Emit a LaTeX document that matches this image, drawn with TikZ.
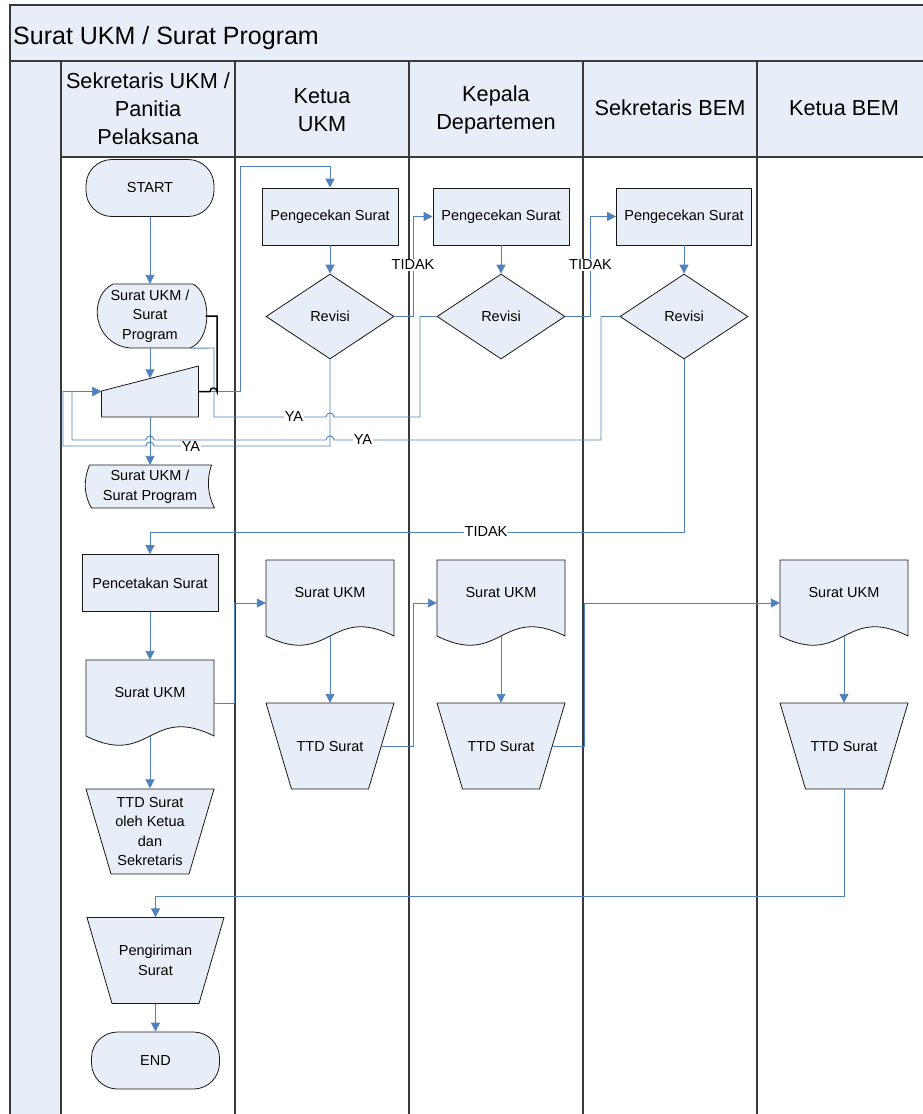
\documentclass[tikz,border=0pt]{standalone}
\usepackage{fontspec}
\setmainfont{Liberation Sans}
\usetikzlibrary{arrows.meta,shapes.geometric,calc}
\definecolor{boxfill}{HTML}{E8EEF7}
\definecolor{flow}{HTML}{4F81BD}
\definecolor{frame}{HTML}{3A3A3A}
\pgfdeclarelayer{lanes}
\pgfdeclarelayer{shapes}
\pgfsetlayers{lanes,shapes,main}

% outlines of the flowchart symbols that TikZ has no shape for
\newcommand\docoutline[1]{\draw[outline,shift={(#1.center)}] (-64,-43) -- (64,-43) -- (64,33) .. controls (0,1) and (0,65) .. (-64,33) -- cycle;}
\newcommand\trapoutline[4]{\draw[outline,shift={(#1.center)}] (-#2,-#3) -- (#2,-#3) -- ({#2-#4},#3) -- ({-#2+#4},#3) -- cycle;}

\begin{document}
\begin{tikzpicture}[x=1pt,y=-1pt,
  every node/.style={font=\fontsize{14.5}{19.5}\selectfont, align=center, inner sep=0pt},
  outline/.style={draw=black!90, line width=0.8pt, fill=boxfill},
  procbox/.style={outline, rectangle, minimum width=136pt, minimum height=57pt},
  terminal/.style={outline, rectangle, rounded corners=26pt, minimum width=128pt, minimum height=57pt},
  decision/.style={outline, diamond, minimum width=128pt, minimum height=85pt},
  holder/.style={rectangle, draw=none},
  docnode/.style={holder, minimum width=128pt, minimum height=86pt, text height=10.5pt, text depth=22pt},
  opnode/.style={holder, minimum width=128pt, minimum height=86pt},
  flowline/.style={draw=flow, line width=0.9pt},
  arr/.style={flowline, -{Triangle[length=9pt,width=9pt]}},
  tag/.style={fill=white, inner sep=1pt},
  lane/.style={draw=frame, line width=1.6pt},
  headtxt/.style={font=\fontsize{21.7}{28}\selectfont},
]
\useasboundingbox (0,0) rectangle (923,1114);

% ---------- pool, lanes and headers ----------
\begin{pgfonlayer}{lanes}
  \fill[boxfill] (10,5) rectangle (923,61);
  \fill[boxfill] (10,61) rectangle (61,1114);
  \fill[boxfill] (61,61) rectangle (923,157);
  \draw[lane] (923,5) -- (10,5) -- (10,1114);
  \draw[lane] (10,61) -- (923,61);
  \draw[lane] (61,157) -- (923,157);
  \foreach \x in {61,235,409,583,757} \draw[lane] (\x,61) -- (\x,1114);
\end{pgfonlayer}

\node[anchor=base west, font=\fontsize{25}{30}\selectfont] (title) at (13,44.5) {Surat UKM / Surat Program};
\node[headtxt] (hd1) at (148,109) {Sekretaris UKM /\\Panitia\\Pelaksana};
\node[headtxt] (hd2) at (322,110) {Ketua\\UKM};
\node[headtxt] (hd3) at (496,110) {Kepala\\Departemen};
\node[headtxt] (hd4) at (670,108) {Sekretaris BEM};
\node[headtxt] (hd5) at (844,108) {Ketua BEM};

% ---------- symbols ----------
\node[terminal] (start) at (150,188) {START};
\node[holder, minimum width=111pt, minimum height=64pt] (sp1) at (150,316) {Surat UKM /\\Surat\\Program};
\node[holder, minimum width=97pt, minimum height=51pt] (mi) at (150,391.5) {};
\node[holder, minimum width=129pt, minimum height=43pt] (sp2) at (150,486.5) {Surat UKM /\\Surat Program};

\node[procbox] (cek1) at (330,216.5) {Pengecekan Surat};
\node[procbox] (cek2) at (501,216.5) {Pengecekan Surat};
\node[procbox, minimum width=135pt] (cek3) at (684,216.5) {Pengecekan Surat};
\node[decision] (rev1) at (330,316.5) {Revisi};
\node[decision] (rev2) at (501,316.5) {Revisi};
\node[decision] (rev3) at (684,316.5) {Revisi};

\node[procbox] (cetak) at (150,583) {Pencetakan Surat};
\node[docnode] (doc0) at (150,703) {Surat UKM};
\node[docnode] (doc1) at (330,603) {Surat UKM};
\node[docnode] (doc2) at (501,603) {Surat UKM};
\node[docnode] (doc3) at (844,603) {Surat UKM};
\node[opnode] (ttd0) at (150,831.5) {TTD Surat\\oleh Ketua\\dan\\Sekretaris};
\node[opnode] (ttd1) at (330,746) {TTD Surat};
\node[opnode] (ttd2) at (501,746) {TTD Surat};
\node[opnode] (ttd3) at (844,746) {TTD Surat};
\node[holder, minimum width=137pt, minimum height=86pt] (kirim) at (155.5,960.5) {Pengiriman\\Surat};
\node[terminal] (stop) at (155.5,1060.5) {END};

\begin{pgfonlayer}{shapes}
  % curved data symbol
  \draw[outline,shift={(sp1.center)}] (-37,-32) -- (43,-32) .. controls (62,-22) and (62,24) .. (40,32)
     -- (-20,32) .. controls (-58,28) and (-62,-20) .. (-37,-32) -- cycle;
  % manual input
  \draw[outline,shift={(mi.center)}] (-48.5,-0.5) -- (48.5,-25.5) -- (48.5,25.5) -- (-48.5,25.5) -- cycle;
  % stored data
  \draw[outline,shift={(sp2.center)}] (-60.5,-21.5) -- (61.5,-21.5) .. controls (56.5,-7) and (57.5,8) .. (64.5,21.5)
     -- (-58.5,21.5) .. controls (-66.5,8) and (-66.5,-7) .. (-60.5,-21.5) -- cycle;
  \docoutline{doc0}\docoutline{doc1}\docoutline{doc2}\docoutline{doc3}
  \trapoutline{ttd0}{64}{42.5}{25}
  \trapoutline{ttd1}{64}{43}{25.5}
  \trapoutline{ttd2}{64}{43}{25.5}
  \trapoutline{ttd3}{64}{43}{25.5}
  \trapoutline{kirim}{68.5}{43}{25}
\end{pgfonlayer}

% ---------- connectors ----------
\draw[arr] (start.south) -- (sp1.north);
\draw[arr] (sp1.south) -- ($(mi.north)+(0,12.5)$);
\draw[arr] (mi.south) -- (sp2.north);
\draw[arr] (mi.east) -- (240,391.5) |- (330,166) -- (cek1.north);
\draw[black, line width=1.5pt] (sp1.east) -- (217,316) -- (217,391.5)
   .. controls (217,386.8) and (210,386.8) .. (210,391.5) -- (mi.east);

\draw[arr] (cek1.south) -- (rev1.north);
\draw[arr] (cek2.south) -- (rev2.north);
\draw[arr] (cek3.south) -- (rev3.north);

\draw[arr] (rev1.east) -- (413,316.5) -- (413,216.5) -- (cek2.west);
\node[tag] (no1) at (413,265) {TIDAK};
\draw[arr] (rev2.east) -- (590.5,316.5) -- (590.5,216.5) -- (cek3.west);
\node[tag] (no2) at (590.5,265) {TIDAK};

% revision loops back to the manual input
\draw[arr] (rev1.south) -- (330,446) -- (154,446) .. controls (154,440.7) and (146,440.7) .. (146,446)
   -- (63,446) -- (63,391.5) -- (mi.west);
\node[tag] (yes1) at (191,446.5) {YA};
\draw[flowline] (rev2.west) -- (420,316.5) -- (420,417) -- (334,417) .. controls (334,411.7) and (326,411.7) .. (326,417)
   -- (214,417) -- (214,348) -- ($(sp1.south)+(40,0)$);
\node[tag] (yes2) at (294,417) {YA};
\draw[arr] (rev3.west) -- (601,316.5) -- (601,440) -- (334,440) .. controls (334,434.7) and (326,434.7) .. (326,440)
   -- (154,440) .. controls (154,434.7) and (146,434.7) .. (146,440) -- (72,440) -- (72,391.5) -- (mi.west);
\node[tag] (yes3) at (363,440) {YA};

\draw[arr] (rev3.south) -- (684,532) -- (150,532) -- (cetak.north);
\node[tag] (no3) at (486,532) {TIDAK};

% printing and signing
\draw[arr] (cetak.south) -- (doc0.north);
\draw[arr] ($(doc0.south)+(0,-10)$) -- (ttd0.north);
\draw[arr] (doc0.east) -- (234,703) -- (234,603) -- (doc1.west);
\draw[arr] ($(doc1.south)+(0,-10)$) -- (ttd1.north);
\draw[arr] ($(ttd1.east)+(-12.75,0)$) -- (413,746) -- (413,603) -- (doc2.west);
\draw[arr] ($(doc2.south)+(0,-10)$) -- (ttd2.north);
\draw[arr] ($(ttd2.east)+(-12.75,0)$) -- (584,746) -- (584,603) -- (doc3.west);
\draw[arr] ($(doc3.south)+(0,-10)$) -- (ttd3.north);
\draw[arr] (ttd3.south) -- (844,896) -- (155.5,896) -- (kirim.north);
\draw[arr] (kirim.south) -- (stop.north);
\end{tikzpicture}
\end{document}
